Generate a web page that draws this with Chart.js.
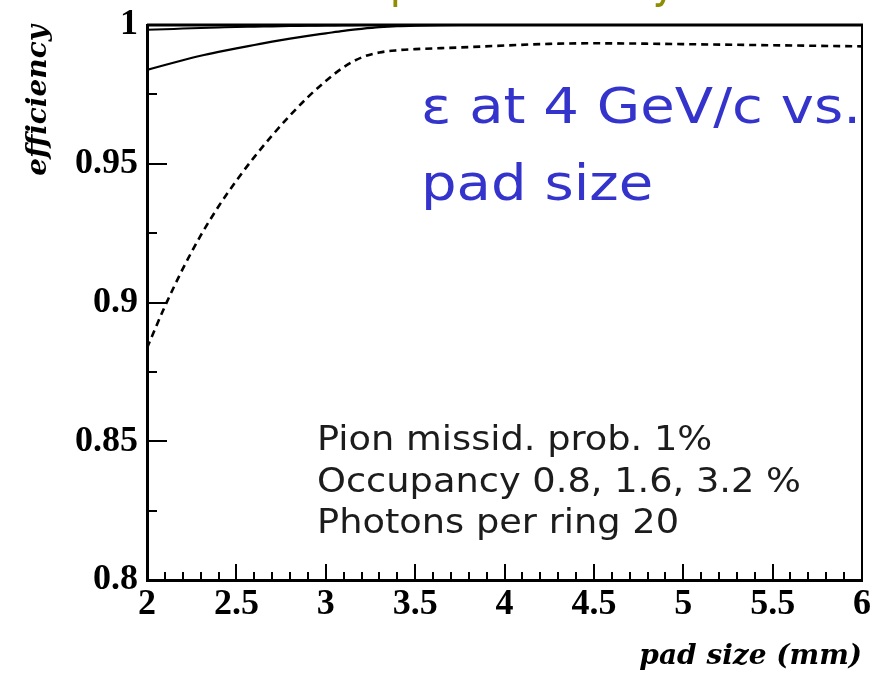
<!DOCTYPE html>
<html><head><meta charset="utf-8">
<script src="https://cdn.jsdelivr.net/npm/chart.js@4.4.0/dist/chart.umd.min.js"></script>
<style>html,body{margin:0;padding:0;background:#fff;overflow:hidden}#wrap{position:relative;width:886px;height:679px}</style>
</head><body><div id="wrap"><canvas id="c" width="886" height="679"></canvas></div>
<script>
// ---- data ----
const padSize = [2.0, 2.1, 2.2, 2.3, 2.4, 2.5, 2.6, 2.7, 2.8, 2.9, 3.0, 3.1, 3.2, 3.3, 3.4, 3.5, 3.75, 4.0, 4.25, 4.5, 4.75, 5.0, 5.5, 6.0];
const eff08 = [0.9983, 0.9985, 0.9987, 0.9989, 0.9991, 0.9993, 0.9994, 0.9995, 0.9996, 0.9997, 0.9998, 0.9999, 1.0, 1.0, 1.0, 1.0, 1.0, 1.0, 1.0, 1.0, 1.0, 1.0, 1.0, 1.0];
const eff16 = [0.9838, 0.9856, 0.9873, 0.9889, 0.9903, 0.9916, 0.9928, 0.9940, 0.9951, 0.9961, 0.9970, 0.9979, 0.9986, 0.9992, 0.9996, 0.9998, 1.0, 1.0, 1.0, 1.0, 1.0, 1.0, 1.0, 1.0];
const eff32 = [0.8836, 0.8986, 0.9121, 0.9241, 0.9346, 0.9439, 0.9524, 0.9602, 0.9674, 0.9740, 0.9798, 0.9848, 0.9883, 0.9901, 0.9909, 0.9913, 0.9919, 0.9926, 0.9932, 0.9934, 0.9933, 0.9931, 0.9927, 0.9923];
const seriesNames = ['Occupancy 0.8 %', 'Occupancy 1.6 %', 'Occupancy 3.2 %'];
const xTickValues = [2, 2.5, 3, 3.5, 4, 4.5, 5, 5.5, 6];
const xTickLabels = ['2', '2.5', '3', '3.5', '4', '4.5', '5', '5.5', '6'];
const yTickValues = [0.8, 0.85, 0.9, 0.95, 1.0];
const yTickLabels = ['0.8', '0.85', '0.9', '0.95', '1'];
const xMinorValues = [2.1,2.2,2.3,2.4,2.6,2.7,2.8,2.9,3.1,3.2,3.3,3.4,3.6,3.7,3.8,3.9,4.1,4.2,4.3,4.4,4.6,4.7,4.8,4.9,5.1,5.2,5.3,5.4,5.6,5.7,5.8,5.9];
const yMinorValues = [0.825, 0.875, 0.925, 0.975];
const xTitle = 'pad size (mm)';
const yTitle = 'efficiency';
const headline = ['\u03b5 at 4 GeV/c vs.', 'pad size'];
const noteLines = ['Pion missid. prob. 1%', 'Occupancy 0.8, 1.6, 3.2 %', 'Photons per ring 20'];
const slideTitle = 'RICH pad efficiency';

const toXY = vals => padSize.map((x, i) => ({x, y: vals[i]}));

const frameTicks = {
  id: 'frameTicks',
  afterDatasetsDraw(chart) {
    const {ctx, chartArea: a, scales: {x, y}} = chart;
    ctx.save();
    ctx.strokeStyle = '#000';
    ctx.lineWidth = 2;
    ctx.beginPath();
    xMinorValues.forEach(v => { const p = Math.round(x.getPixelForValue(v)); ctx.moveTo(p, a.bottom); ctx.lineTo(p, a.bottom - 8); });
    xTickValues.forEach(v => { const p = Math.round(x.getPixelForValue(v)); ctx.moveTo(p, a.bottom); ctx.lineTo(p, a.bottom - 16); });
    yMinorValues.forEach(v => { const p = Math.round(y.getPixelForValue(v)); ctx.moveTo(a.left, p); ctx.lineTo(a.left + 10, p); });
    yTickValues.forEach(v => { const p = Math.round(y.getPixelForValue(v)); ctx.moveTo(a.left, p); ctx.lineTo(a.left + 20, p); });
    ctx.stroke();
    ctx.lineWidth = 3;
    ctx.beginPath(); ctx.moveTo(a.left, a.top); ctx.lineTo(a.right + 1, a.top); ctx.stroke();
    ctx.lineWidth = 2;
    ctx.beginPath(); ctx.moveTo(a.right, a.top); ctx.lineTo(a.right, a.bottom); ctx.stroke();
    ctx.restore();
  }
};

const overlayText = {
  id: 'overlayText',
  afterDraw(chart) {
    const ctx = chart.ctx;
    ctx.save();
    ctx.textBaseline = 'alphabetic';
    ctx.textAlign = 'left';
    // slide title (only descenders visible)
    ctx.font = '49px "DejaVu Sans"';
    ctx.fillStyle = '#8e8e00';
    const F = 49;
    const pIdx = slideTitle.indexOf('pad');
    const yIdx = slideTitle.lastIndexOf('y');
    const wPre = ctx.measureText(slideTitle.slice(0, pIdx)).width;
    const wMid = ctx.measureText(slideTitle.slice(pIdx, yIdx)).width;
    const k0 = 269 / (wMid + 0.15 * F);
    const left0 = 395 - k0 * (wPre + 0.13 * F);
    ctx.save(); ctx.translate(left0, -3); ctx.scale(k0, 1); ctx.fillText(slideTitle, 0, 0); ctx.restore();
    // blue headline
    ctx.fillStyle = '#3434cc';
    ctx.font = '49px "DejaVu Sans"';
    const k1 = 440 / ctx.measureText(headline[0]).width;
    ctx.save(); ctx.translate(421, 123); ctx.scale(k1, 1); ctx.fillText(headline[0], 0, 0); ctx.restore();
    ctx.save(); ctx.translate(421, 200); ctx.scale(k1, 1); ctx.fillText(headline[1], 0, 0); ctx.restore();
    // note box
    ctx.fillStyle = '#1c1c1c';
    ctx.font = '34px "DejaVu Sans"';
    const k2 = 484 / ctx.measureText(noteLines[1]).width;
    [450, 492, 533].forEach((b, i) => { ctx.save(); ctx.translate(317, b); ctx.scale(k2, 1); ctx.fillText(noteLines[i], 0, 0); ctx.restore(); });
    ctx.restore();
  }
};

const tickFont = {family: '"Liberation Serif", "Times New Roman", serif', size: 36, weight: 'bold'};
const titleFont = {family: '"DejaVu Serif"', size: 28, weight: 'bold', style: 'italic'};

new Chart(document.getElementById('c'), {
  type: 'line',
  data: {
    datasets: [
      {label: seriesNames[0], data: toXY(eff08), borderColor: '#000', borderWidth: 2, pointRadius: 0, cubicInterpolationMode: 'monotone', fill: false},
      {label: seriesNames[1], data: toXY(eff16), borderColor: '#000', borderWidth: 2.2, pointRadius: 0, cubicInterpolationMode: 'monotone', fill: false},
      {label: seriesNames[2], data: toXY(eff32), borderColor: '#000', borderWidth: 2.6, borderDash: [7, 5], pointRadius: 0, cubicInterpolationMode: 'monotone', fill: false}
    ]
  },
  options: {
    responsive: false,
    animation: false,
    events: [],
    layout: {padding: {top: 25, right: 24, left: 0, bottom: 0}},
    plugins: {legend: {display: false}, tooltip: {enabled: false}, title: {display: false}},
    scales: {
      x: {
        type: 'linear', min: 2, max: 6,
        afterBuildTicks: s => { s.ticks = xTickValues.map(v => ({value: v})); },
        afterFit: s => { s.height = 99; s.paddingLeft = 0; s.paddingRight = 0; s.paddingTop = 0; s.paddingBottom = 0; },
        grid: {display: false, drawTicks: false},
        border: {display: true, color: '#000', width: 3},
        ticks: {color: '#000', font: tickFont, padding: 3, autoSkip: false, maxRotation: 0,
          callback: v => xTickLabels[xTickValues.findIndex(t => Math.abs(t - v) < 1e-6)]},
        title: {display: true, text: xTitle, align: 'end', color: '#000', font: titleFont, padding: {top: 0, bottom: 5}}
      },
      y: {
        type: 'linear', min: 0.8, max: 1.0,
        afterBuildTicks: s => { s.ticks = yTickValues.map(v => ({value: v})); },
        afterFit: s => { s.width = 147; s.paddingTop = 0; s.paddingBottom = 0; s.paddingLeft = 0; s.paddingRight = 0; },
        grid: {display: false, drawTicks: false},
        border: {display: true, color: '#000', width: 3},
        ticks: {color: '#000', font: tickFont, padding: 9, autoSkip: false,
          callback: v => yTickLabels[yTickValues.findIndex(t => Math.abs(t - v) < 1e-6)]},
        title: {display: true, text: yTitle, align: 'end', color: '#000', font: titleFont, padding: {top: 22, bottom: 0}}
      }
    }
  },
  plugins: [frameTicks, overlayText]
});
</script>
</body></html>
